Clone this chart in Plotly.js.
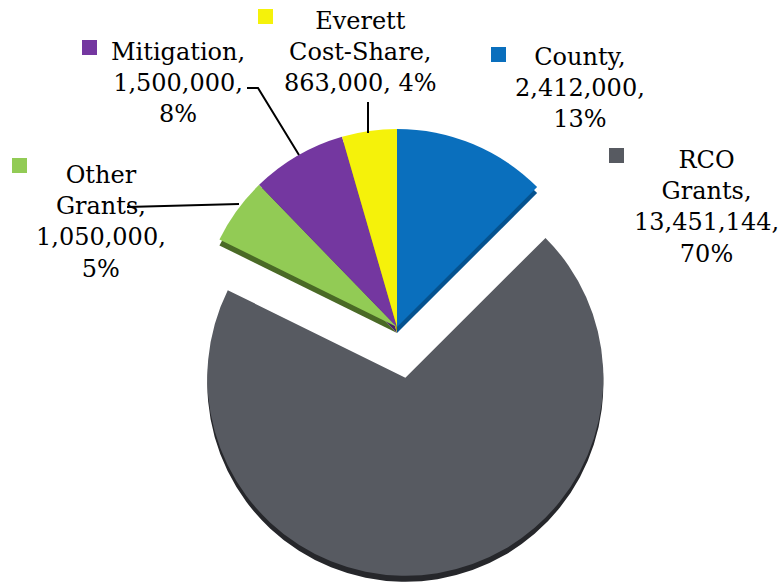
<!DOCTYPE html>
<html>
<head>
<meta charset="utf-8">
<script src="https://cdn.plot.ly/plotly-3.0.1.min.js"></script>
<style>html,body{margin:0;padding:0;background:#fff;}#chart{width:778px;height:585px;}</style>
</head>
<body>
<div id="chart"></div>
<script>
// ---- data ----
var labels = ['County', 'RCO Grants', 'Other Grants', 'Mitigation', 'Everett Cost-Share'];
var values = [2412000, 13451144, 1050000, 1500000, 863000];
var colors = ['#0A6FBD', '#575A61', '#92CB55', '#7437A0', '#F5F20A'];
var sideColors = ['#05528F', '#26272B', '#4A6A26', '#4A2366', '#A9A600'];
var pulls = [0, 0.26, 0, 0, 0];
var pctOnValueLine = [false, false, false, false, true];

// ---- layout helpers (positions in px of the 778x585 canvas) ----
var W = 778, H = 585;
function fx(x) { return x / W; }
function fy(y) { return 1 - y / H; }

var labelPos = [   // center of text block
  [580, 88], [706, 207], [101, 222], [178, 83], [360, 52]
];
var keyPos = [     // top-left of colour key
  [491, 47], [609, 148], [12, 158], [82, 40], [258, 9]
];
var leaders = [
  null, null,
  [[127, 207], [239, 204]],
  [[247, 88], [258, 88], [299, 155]],
  [[368, 102], [368, 133]]
];

var total = values.reduce(function (a, b) { return a + b; }, 0);
var FONT = {family: '"DejaVu Serif", "Liberation Serif", serif', size: 24, color: '#000'};

var annotations = [];
var shapes = [];
labels.forEach(function (lab, i) {
  var words = lab.split(' ');
  var name = words.join('<br>') + ',';
  var val = values[i].toLocaleString('en-US') + ',';
  var pct = Math.round(values[i] / total * 100) + '%';
  var txt = name + '<br>' + val + (pctOnValueLine[i] ? ' ' : '<br>') + pct;
  annotations.push({
    xref: 'paper', yref: 'paper', x: fx(labelPos[i][0]), y: fy(labelPos[i][1]),
    xanchor: 'center', yanchor: 'middle', text: txt, showarrow: false,
    align: 'center', font: FONT
  });
  shapes.push({
    type: 'rect', xref: 'paper', yref: 'paper',
    x0: fx(keyPos[i][0]), x1: fx(keyPos[i][0] + 15),
    y0: fy(keyPos[i][1]), y1: fy(keyPos[i][1] + 15),
    fillcolor: colors[i], line: {width: 0}
  });
  if (leaders[i]) {
    var p = leaders[i].map(function (pt, k) {
      return (k ? 'L' : 'M') + fx(pt[0]) + ',' + fy(pt[1]);
    }).join(' ');
    shapes.push({type: 'path', xref: 'paper', yref: 'paper', path: p,
      line: {color: '#000', width: 2}});
  }
});

var DEPTH = 6;
function pieTrace(cols, shift) {
  return {
    type: 'pie', labels: labels.slice(), values: values.slice(), sort: false,
    direction: 'clockwise', rotation: 0, pull: pulls.slice(),
    textinfo: 'none', hoverinfo: 'none', showlegend: false,
    marker: {colors: cols.slice(), line: {width: 0}},
    domain: {x: [fx(147.5), fx(646.5)], y: [fy(576.5 + shift), fy(77.5 + shift)]}
  };
}
var sideTrace = pieTrace(sideColors, DEPTH);
var faceTrace = pieTrace(colors, 0);

var layout = {
  width: W, height: H, margin: {l: 0, r: 0, t: 0, b: 0},
  paper_bgcolor: '#fff', plot_bgcolor: '#fff', showlegend: false,
  annotations: annotations, shapes: shapes
};

Plotly.newPlot('chart', [sideTrace, faceTrace], layout, {displayModeBar: false, staticPlot: true});
</script>
</body>
</html>
